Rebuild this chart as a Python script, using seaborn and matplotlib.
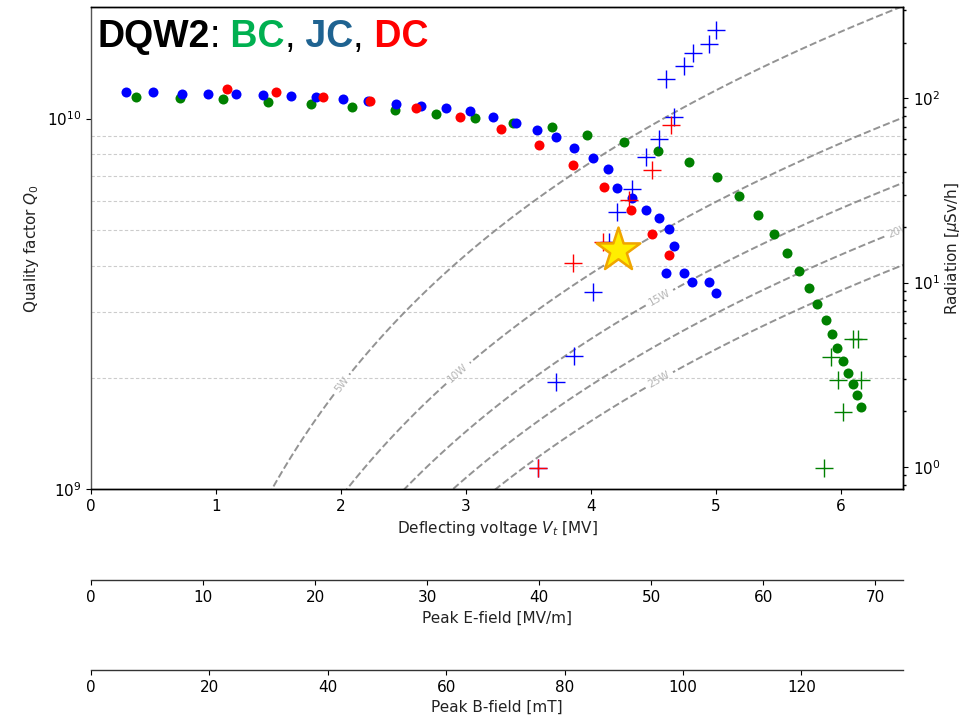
import numpy as np
import pandas as pd
import matplotlib
matplotlib.use("Agg")
import matplotlib.pyplot as plt
import seaborn as sns

# ---------------- data ----------------
# Quality factor vs deflecting voltage [MV]
bc_v = [0.36, 0.71, 1.06, 1.42, 1.76, 2.09, 2.43, 2.76, 3.07, 3.38, 3.69, 3.97, 4.27, 4.54,
        4.79, 5.01, 5.19, 5.34, 5.47, 5.57, 5.67, 5.75, 5.81, 5.88, 5.93, 5.97, 6.02, 6.06,
        6.10, 6.13, 6.16]
bc_q0 = [1.142e10, 1.133e10, 1.130e10, 1.109e10, 1.096e10, 1.075e10, 1.053e10, 1.031e10,
         1.002e10, 9.74e9, 9.47e9, 9.02e9, 8.65e9, 8.16e9, 7.63e9, 6.94e9, 6.19e9, 5.50e9,
         4.88e9, 4.33e9, 3.87e9, 3.49e9, 3.16e9, 2.86e9, 2.62e9, 2.40e9, 2.22e9, 2.06e9,
         1.92e9, 1.79e9, 1.67e9]

jc_v = [0.28, 0.50, 0.73, 0.94, 1.16, 1.38, 1.60, 1.80, 2.02, 2.22, 2.44, 2.64, 2.84, 3.03,
        3.22, 3.40, 3.57, 3.72, 3.87, 4.02, 4.14, 4.21, 4.33, 4.44, 4.55, 4.63, 4.67, 4.60,
        4.75, 4.81, 4.95, 5.00]
jc_q0 = [1.179e10, 1.178e10, 1.168e10, 1.168e10, 1.168e10, 1.161e10, 1.154e10, 1.144e10,
         1.130e10, 1.118e10, 1.098e10, 1.084e10, 1.066e10, 1.046e10, 1.011e10, 9.74e9, 9.34e9,
         8.90e9, 8.34e9, 7.81e9, 7.29e9, 6.48e9, 6.09e9, 5.68e9, 5.40e9, 5.03e9, 4.53e9,
         3.83e9, 3.84e9, 3.63e9, 3.61e9, 3.39e9]

dc_v = [1.09, 1.48, 1.86, 2.23, 2.60, 2.95, 3.28, 3.59, 3.86, 4.11, 4.32, 4.49, 4.63]
dc_q0 = [1.203e10, 1.181e10, 1.145e10, 1.114e10, 1.069e10, 1.008e10, 9.39e9, 8.47e9,
         7.51e9, 6.52e9, 5.67e9, 4.89e9, 4.28e9]

# Radiation [uSv/h] vs deflecting voltage [MV]
bc_rad_v = [5.87, 5.92, 5.98, 6.02, 6.10, 6.14, 6.16]
bc_rad = [0.99, 3.96, 2.95, 1.98, 4.96, 4.96, 2.95]

jc_rad_v = [3.58, 3.72, 3.87, 4.02, 4.15, 4.21, 4.33, 4.44, 4.55, 4.67, 4.60, 4.75, 4.82,
            4.95, 5.00]
jc_rad = [0.99, 2.9, 4.0, 8.9, 16.7, 24, 32, 48, 60, 79, 128, 150, 177, 196, 234]

dc_rad_v = [3.58, 3.86, 4.10, 4.31, 4.49, 4.64]
dc_rad = [0.99, 12.8, 16.7, 28, 41, 72]

# highlighted operating point
star_v = [4.22]
star_q0 = [4.41e9]

# dissipated power iso-lines
power_levels = [5, 10, 15, 20, 25]
power_label_v = [2.01, 2.95, 4.56, 6.47, 4.56]
power_label_q0 = [1.91e9, 2.03e9, 3.24e9, 4.95e9, 1.94e9]
r_over_q = 420.0  # Ohm

# field conversion factors and tick labels
e_per_mv = 11.15   # MV/m per MV
b_per_mv = 21.1    # mT per MV
e_ticks = [0, 10, 20, 30, 40, 50, 60, 70]
b_ticks = [0, 20, 40, 60, 80, 100, 120]

title_parts = [("DQW2", "black", "bold"), (":", "black", "normal"),
               (" BC", "#00b050", "bold"), (",", "black", "normal"),
               (" JC", "#1f6391", "bold"), (",", "black", "normal"),
               (" DC", "#ff0000", "bold")]

# ---------------- style ----------------
sns.set_theme(style="ticks", rc={
    "axes.linewidth": 1.0, "xtick.major.size": 3.5, "ytick.major.size": 3.5,
    "xtick.minor.size": 2, "ytick.minor.size": 2,
    "xtick.major.width": 0.8, "ytick.major.width": 0.8,
    "axes.edgecolor": "black", "xtick.color": "black", "ytick.color": "black",
    "axes.labelcolor": "#222222", "text.color": "black"})
plt.rcParams["font.family"] = ["DejaVu Sans"]
plt.rcParams["font.size"] = 11
plt.rcParams["axes.labelsize"] = 11
plt.rcParams["xtick.labelsize"] = 11
plt.rcParams["ytick.labelsize"] = 11

fig = plt.figure(figsize=(9.63, 7.18), dpi=100)
ax = fig.add_axes([0.0945, 0.3189, 0.8432, 0.6713])
ax.set_yscale("log")
ax.set_xlim(0, 6.5)
ax.set_ylim(1e9, 2e10)

# power iso-lines
vv = np.linspace(0.01, 6.7, 700)
qq = np.logspace(8.9, 10.45, 700)
VV, QQ = np.meshgrid(vv, qq)
PP = (VV * 1e6) ** 2 / (r_over_q * QQ)
cs = ax.contour(VV, QQ, PP, levels=power_levels, colors="gray", linestyles="--",
                linewidths=1.4, alpha=0.85, zorder=1)
ax.clabel(cs, fmt="%dW", fontsize=7.5, inline=True, inline_spacing=4,
          colors="#a8a8a8", manual=list(zip(power_label_v, power_label_q0)))
for t in cs.labelTexts:
    t.set_clip_on(True)

# gridlines at minor decades
ax.yaxis.grid(True, which="minor", linestyle=(0, (3, 2)), color="#cccccc", linewidth=0.8)
ax.yaxis.grid(False, which="major")
ax.tick_params(axis="y", which="minor", length=0)

# Q0 points
sns.scatterplot(x=bc_v, y=bc_q0, ax=ax, color="green", s=52, linewidth=0, zorder=3)
sns.scatterplot(x=jc_v, y=jc_q0, ax=ax, color="blue", s=52, linewidth=0, zorder=3)
sns.scatterplot(x=dc_v, y=dc_q0, ax=ax, color="red", s=52, linewidth=0, zorder=3)

ax.set_xlabel("Deflecting voltage $V_t$ [MV]")
ax.set_ylabel("Quality factor $Q_0$")
ax.spines["left"].set_color("#555555")

# radiation axis
ax2 = ax.twinx()
ax2.set_yscale("log")
sns.scatterplot(x=bc_rad_v, y=bc_rad, ax=ax2, color="green", marker="+", s=170, linewidth=1.0)
sns.scatterplot(x=jc_rad_v, y=jc_rad, ax=ax2, color="blue", marker="+", s=170, linewidth=1.0)
sns.scatterplot(x=dc_rad_v, y=dc_rad, ax=ax2, color="red", marker="+", s=170, linewidth=1.0)
ax2.scatter(star_v, star_q0, transform=ax.transData, marker="*", s=1090,
            facecolor="#ffee00", edgecolor="#f0a500", linewidth=1.8, zorder=10)
ax2.set_ylim(0.757, 313)
ax2.set_xlim(0, 6.5)
ax2.set_ylabel("Radiation [$\\mu$Sv/h]", labelpad=2)
ax2.spines["left"].set_visible(False)
ax.set_xlim(0, 6.5)
ax.set_ylim(1e9, 2e10)

# secondary field axes
secE = ax.secondary_xaxis(-0.1888, functions=(lambda v: v * e_per_mv, lambda e: e / e_per_mv))
secE.set_xticks(e_ticks)
secE.set_xlabel("Peak E-field [MV/m]")
secB = ax.secondary_xaxis(-0.3755, functions=(lambda v: v * b_per_mv, lambda b: b / b_per_mv))
secB.set_xticks(b_ticks)
secB.set_xlabel("Peak B-field [mT]")
for sec in (secE, secB):
    sec.spines["bottom"].set_color("#333333")

# multi-coloured title
fig.canvas.draw()
renderer = fig.canvas.get_renderer()
x = 97 / 963
y = 1 - 46.7 / 718
for txt, col, wt in title_parts:
    t = fig.text(x, y, txt, color=col, fontsize=27, fontweight=wt,
                 family=["Liberation Sans", "DejaVu Sans"], ha="left", va="baseline")
    bb = t.get_window_extent(renderer)
    x = fig.transFigure.inverted().transform((bb.x1, bb.y0))[0]

fig.savefig("out.png", dpi=100)
